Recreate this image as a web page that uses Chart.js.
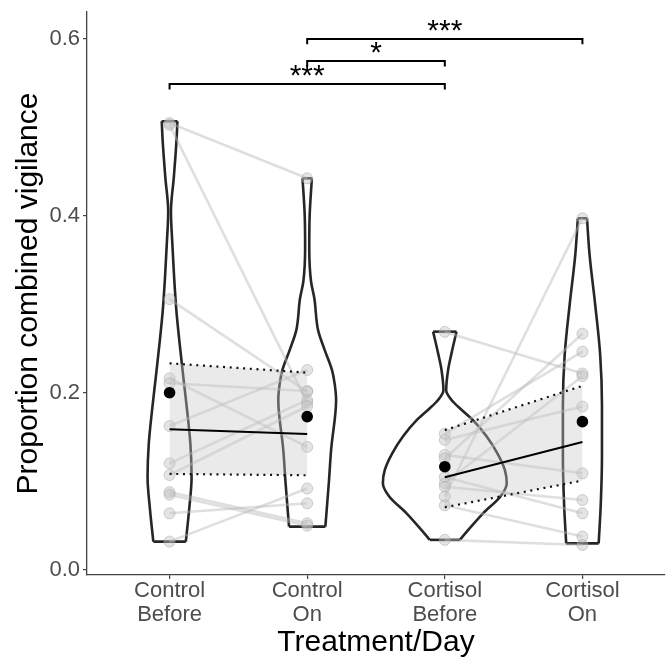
<!DOCTYPE html>
<html><head><meta charset="utf-8">
<script src="https://cdn.jsdelivr.net/npm/chart.js@4.4.1/dist/chart.umd.min.js"></script>
<style>html,body{margin:0;padding:0;background:#fff;} canvas{display:block;}</style>
</head><body>
<canvas id="c" width="672" height="661"></canvas>
<script>
// ---------------- data ----------------
const categories = [["Control","Before"],["Control","On"],["Cortisol","Before"],["Cortisol","On"]];
const yTicks = [0.0, 0.2, 0.4, 0.6];

// paired individuals (index k in Before matches index k in On)
const controlBefore = [0.505, 0.503, 0.306, 0.2166, 0.211, 0.1627, 0.1205, 0.1073, 0.088, 0.085, 0.064, 0.032];
const controlOn     = [0.4426, 0.189, 0.2015, 0.139, 0.2023, 0.226, 0.192, 0.185, 0.0527, 0.050, 0.0753, 0.092];
const cortisolBefore = [0.269, 0.154, 0.147, 0.130, 0.126, 0.105, 0.098, 0.094, 0.083, 0.073, 0.034];
const cortisolOn     = [0.222, 0.2467, 0.1846, 0.1092, 0.267, 0.064, 0.219, 0.079, 0.3974, 0.0377, 0.0282];

const groupMeans = [0.2003, 0.1733, 0.1167, 0.1676];

// model fit and confidence band (Before -> On)
const fitControl       = [0.159, 0.1537];
const fitControlUpper  = [0.2335, 0.223];
const fitControlLower  = [0.1085, 0.107];
const fitCortisol      = [0.1047, 0.1446];
const fitCortisolUpper = [0.158, 0.208];
const fitCortisolLower = [0.0708, 0.101];

// violin density profiles: levels (value) and half widths (category units)
const violinLevels = [
  [0.032, 0.068, 0.105, 0.143, 0.181, 0.218, 0.256, 0.294, 0.331, 0.369, 0.405, 0.444, 0.482, 0.507],
  [0.049, 0.098, 0.136, 0.192, 0.21, 0.226, 0.249, 0.271, 0.307, 0.326, 0.3635, 0.401, 0.4426],
  [0.034, 0.045, 0.064, 0.083, 0.098, 0.113, 0.132, 0.151, 0.1695, 0.181, 0.192, 0.203, 0.226, 0.245, 0.2693],
  [0.030, 0.0734, 0.13, 0.186, 0.243, 0.2994, 0.356, 0.3974]
];
const violinHalfWidths = [
  [0.118, 0.142, 0.160, 0.151, 0.127, 0.100, 0.073, 0.049, 0.033, 0.020, 0.010, 0.031, 0.049, 0.057],
  [0.132, 0.157, 0.174, 0.210, 0.200, 0.180, 0.126, 0.079, 0.052, 0.028, 0.015, 0.018, 0.034],
  [0.109, 0.169, 0.278, 0.404, 0.450, 0.436, 0.381, 0.303, 0.203, 0.121, 0.049, 0.010, 0.024, 0.049, 0.085],
  [0.118, 0.133, 0.142, 0.142, 0.129, 0.093, 0.052, 0.033]
];

// significance brackets
const sigFrom   = [0, 1, 1];
const sigTo     = [2, 2, 3];
const sigHeight = [0.549, 0.575, 0.600];
const sigTip    = 0.006;
const sigLabels = ["***", "*", "***"];

// ---------------- build datasets ----------------
const FONT = '"Liberation Sans", Arial, Helvetica, sans-serif';
const datasets = [];
function add(o) {
  datasets.push(Object.assign({type:'line', fill:false, pointRadius:0, pointHoverRadius:0, tension:0, borderWidth:2, spanGaps:false}, o));
}

// violins
violinLevels.forEach((L, i) => {
  const W = violinHalfWidths[i];
  const n = L.length - 1;
  const st = {borderColor:'#262626', borderWidth:2.6, order:60};
  const side = {indexAxis:'y', cubicInterpolationMode:'monotone'};
  add(Object.assign({data: L.map((v,k)=>({x:i+W[k], y:v}))}, st, side));
  add(Object.assign({data: L.map((v,k)=>({x:i-W[k], y:v}))}, st, side));
  add(Object.assign({data: [{x:i-W[n], y:L[n]}, {x:i+W[n], y:L[n]}]}, st));
  add(Object.assign({data: [{x:i-W[0], y:L[0]}, {x:i+W[0], y:L[0]}]}, st));
});

// individual paired lines
const pairs = [[0, controlBefore, controlOn], [2, cortisolBefore, cortisolOn]];
pairs.forEach(([c, before, on]) => {
  before.forEach((b, k) => {
    add({data:[{x:c, y:b}, {x:c+1, y:on[k]}], borderColor:'rgba(185,185,185,0.45)', borderWidth:2.6, order:50});
  });
});

// individual points
[controlBefore, controlOn, cortisolBefore, cortisolOn].forEach((arr, i) => {
  add({data: arr.map(v=>({x:i, y:v})), showLine:false, pointRadius:5.5,
       pointBackgroundColor:'rgba(195,195,195,0.45)', pointBorderColor:'rgba(165,165,165,0.5)',
       pointBorderWidth:1, order:40});
});

// confidence bands + fits
[[0, fitControl, fitControlUpper, fitControlLower], [2, fitCortisol, fitCortisolUpper, fitCortisolLower]].forEach(([c, fit, up, lo]) => {
  add({data:[{x:c, y:up[0]}, {x:c+1, y:up[1]}], borderColor:'#111', borderWidth:2.2, borderDash:[2,4.7],
       fill:'+1', backgroundColor:'rgba(200,200,200,0.38)', order:30});
  add({data:[{x:c, y:lo[0]}, {x:c+1, y:lo[1]}], borderColor:'#111', borderWidth:2.2, borderDash:[2,4.7], order:29});
  add({data:[{x:c, y:fit[0]}, {x:c+1, y:fit[1]}], borderColor:'#000', borderWidth:2, order:20});
});

// means
add({data: groupMeans.map((v,i)=>({x:i, y:v})), showLine:false, pointRadius:5.8,
     pointBackgroundColor:'#000', pointBorderColor:'#000', pointBorderWidth:0, order:10});

// brackets
sigFrom.forEach((f, j) => {
  const t = sigTo[j], h = sigHeight[j];
  add({data:[{x:f, y:h-sigTip}, {x:f, y:h}, {x:t, y:h}, {x:t, y:h-sigTip}], borderColor:'#000', borderWidth:2, order:5});
});

// ---------------- plugins ----------------
const bgPlugin = {id:'bg', beforeDraw(chart){ const c=chart.ctx; c.save(); c.fillStyle='#fff'; c.fillRect(0,0,chart.width,chart.height); c.restore(); }};
const starPlugin = {id:'stars', afterDatasetsDraw(chart){
  const c = chart.ctx, xs = chart.scales.x, ys = chart.scales.y;
  c.save(); c.fillStyle='#000'; c.font = '30px ' + FONT; c.textAlign='center'; c.textBaseline='alphabetic';
  sigLabels.forEach((lab, j) => {
    const x = xs.getPixelForValue((sigFrom[j]+sigTo[j])/2);
    const y = ys.getPixelForValue(sigHeight[j]) + 1;
    c.fillText(lab, x, y);
  });
  c.restore();
}};

new Chart(document.getElementById('c'), {
  type:'line',
  data:{datasets},
  options:{
    responsive:false, animation:false, events:[],
    layout:{padding:{top:12, right:7, left:0, bottom:0}},
    plugins:{legend:{display:false}, tooltip:{enabled:false}},
    scales:{
      x:{type:'linear', min:-0.6, max:3.6,
         afterBuildTicks(s){ s.ticks = categories.map((_,i)=>({value:i})); },
         afterFit(s){ s.height = 86; s.paddingLeft = 0; s.paddingRight = 0; },
         ticks:{autoSkip:false, maxRotation:0, padding:0, color:'#4d4d4d',
                font:{family:FONT, size:22, lineHeight:1.1},
                callback:(v)=>categories[v]},
         grid:{drawOnChartArea:false, drawTicks:true, tickLength:4, color:'#444', lineWidth:1.2},
         border:{display:true, color:'#444', width:1.3},
         title:{display:true, text:'Treatment/Day', color:'#000', font:{family:FONT, size:30}, padding:{top:0, bottom:0}}
      },
      y:{type:'linear', min:-0.0057, max:0.6305,
         afterBuildTicks(s){ s.ticks = yTicks.map(v=>({value:v})); },
         afterFit(s){ s.width = 87; s.paddingTop = 0; s.paddingBottom = 0; },
         ticks:{autoSkip:false, padding:3, color:'#4d4d4d', font:{family:FONT, size:22},
                callback:(v)=>Number(v).toFixed(1)},
         grid:{drawOnChartArea:false, drawTicks:true, tickLength:4, color:'#444', lineWidth:1.2},
         border:{display:true, color:'#444', width:1.3},
         title:{display:true, text:'Proportion combined vigilance', color:'#000', font:{family:FONT, size:30}, padding:{top:11, bottom:0}}
      }
    }
  },
  plugins:[bgPlugin, starPlugin]
});
</script>
</body></html>
